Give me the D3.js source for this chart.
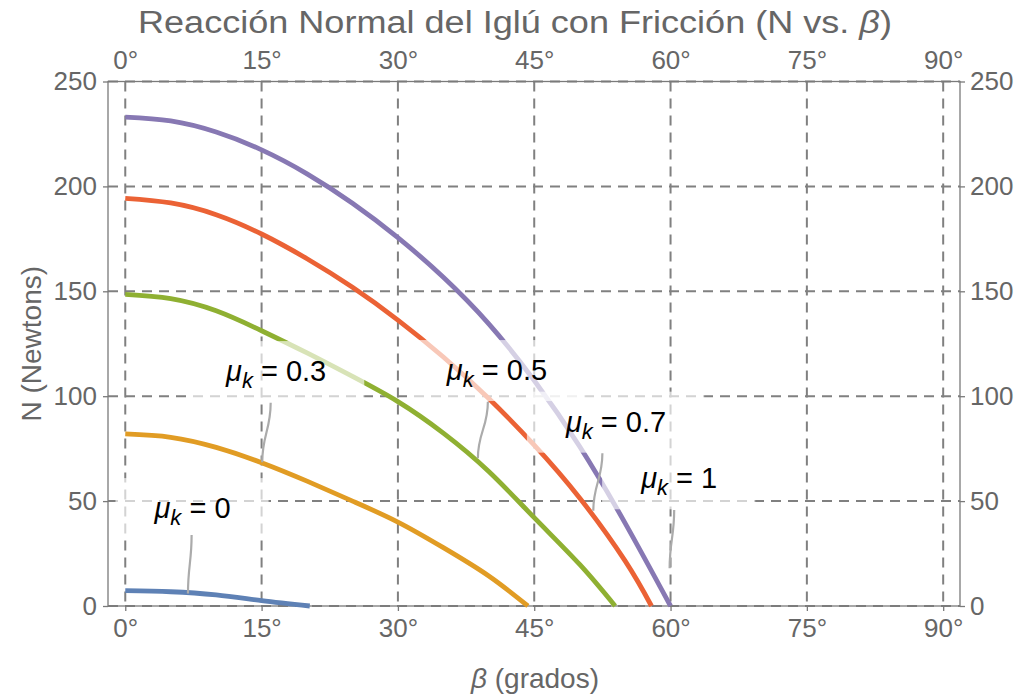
<!DOCTYPE html>
<html>
<head>
<meta charset="utf-8">
<script src="https://cdn.jsdelivr.net/npm/d3@7/dist/d3.min.js"></script>
<style>
  html, body { margin: 0; padding: 0; background: #fff; }
  svg { display: block; }
  text { font-family: "Liberation Sans", Arial, Helvetica, sans-serif; }
</style>
</head>
<body>
<svg id="chart" width="1021" height="698"></svg>
<script>
// Normal reaction N (Newtons) against the angle beta (degrees), one curve per friction coefficient.
const muValues = [0, 0.3, 0.5, 0.7, 1];

const betaMu0  = [0, 5, 10, 15, 20.3];
const normMu0  = [7.3, 6.8, 5.3, 2.6, 0];

const betaMu03 = [0, 5, 10, 15, 20, 25, 30, 35, 40, 44.3];
const normMu03 = [82, 80.4, 75.6, 68.3, 59.5, 50.0, 40.0, 27.8, 14.3, 0];

const betaMu05 = [0, 5, 10, 15, 20, 25, 30, 35, 40, 45, 50, 53.9];
const normMu05 = [148.5, 146.5, 140.7, 131.2, 120.6, 109.4, 97.4, 82.4, 64.1, 42.1, 19.8, 0];

const betaMu07 = [0, 5, 10, 15, 20, 25, 30, 35, 40, 45, 50, 55, 57.9];
const normMu07 = [194.3, 192.1, 186.5, 177.3, 165.5, 151.9, 136.3, 118.7, 98.9, 76.7, 51.5, 21.5, 0];

const betaMu1  = [0, 5, 10, 15, 20, 25, 30, 35, 40, 45, 50, 55, 60];
const normMu1  = [233, 231.2, 225.9, 217.4, 206, 192, 175.6, 156.7, 134.5, 107.5, 76, 39.5, 0];

const xTicks = [0, 15, 30, 45, 60, 75, 90];
const yTicks = [0, 50, 100, 150, 200, 250];

const colors = ["#5E81B5", "#E19C24", "#8FB032", "#EB6235", "#8778B3"];

const seriesBeta = [betaMu0, betaMu03, betaMu05, betaMu07, betaMu1];
const seriesNorm = [normMu0, normMu03, normMu05, normMu07, normMu1];

// Callout placement in data units: label centre/baseline and leader ends.
const calloutLabel  = [[7.4, 41.9], [16.6, 107.2], [40.9, 107.7], [54.0, 83.1], [60.95, 56.1]];
const calloutLeader = [
  [[7.3, 33.8],  [6.9, 6.0]],
  [[16.0, 96.9], [15.07, 68.5]],
  [[39.9, 97.4], [38.8, 70.4]],
  [[52.5, 72.8], [51.5, 45.4]],
  [[60.4, 45.8], [59.9, 18.0]]
];

const svg = d3.select("#chart");

const frame = { left: 108, right: 960, top: 81.5, bottom: 606 };
const x = d3.scaleLinear().domain([-1.9, 91.85]).range([frame.left, frame.right]);
const y = d3.scaleLinear().domain([0, 250]).range([frame.bottom, frame.top]);

const axisGrey = "#7a7a7a";
const labelGrey = "#666666";

// dashed grid
const grid = svg.append("g");
grid.selectAll("line.v").data(xTicks).join("line")
  .attr("x1", d => x(d)).attr("x2", d => x(d))
  .attr("y1", frame.top).attr("y2", frame.bottom)
  .attr("stroke", "#808080").attr("stroke-width", 2).attr("stroke-dasharray", "10,7");
grid.selectAll("line.h").data(yTicks).join("line")
  .attr("x1", frame.left).attr("x2", frame.right)
  .attr("y1", d => y(d)).attr("y2", d => y(d))
  .attr("stroke", "#808080").attr("stroke-width", 2).attr("stroke-dasharray", "10,7");

// frame
svg.append("rect")
  .attr("x", frame.left).attr("y", frame.top)
  .attr("width", frame.right - frame.left).attr("height", frame.bottom - frame.top)
  .attr("fill", "none").attr("stroke", axisGrey).attr("stroke-width", 1.3);

// axes on all four sides
const fmtDeg = d => d + "°";
const styleAxis = g => {
  g.select(".domain").remove();
  g.selectAll(".tick line").attr("stroke", axisGrey).attr("stroke-width", 1.3);
  g.selectAll(".tick text").attr("fill", labelGrey)
    .style("font-family", "'Liberation Sans', Arial, sans-serif").style("font-size", "26px");
};
svg.append("g").attr("transform", `translate(0,${frame.bottom})`)
  .call(d3.axisBottom(x).tickValues(xTicks).tickFormat(fmtDeg).tickSize(5).tickPadding(8))
  .call(styleAxis);
svg.append("g").attr("transform", `translate(0,${frame.top})`)
  .call(d3.axisTop(x).tickValues(xTicks).tickFormat(fmtDeg).tickSize(0).tickPadding(13))
  .call(styleAxis);
svg.append("g").attr("transform", `translate(${frame.left},0)`)
  .call(d3.axisLeft(y).tickValues(yTicks).tickSize(5).tickPadding(6))
  .call(styleAxis);
svg.append("g").attr("transform", `translate(${frame.right},0)`)
  .call(d3.axisRight(y).tickValues(yTicks).tickSize(5).tickPadding(5))
  .call(styleAxis);

// curves
const line = d3.line().x(d => x(d[0])).y(d => y(d[1])).curve(d3.curveNatural);
const curves = svg.append("g");
muValues.forEach((mu, i) => {
  const pts = seriesBeta[i].map((b, j) => [b, seriesNorm[i][j]]);
  curves.append("path").datum(pts)
    .attr("d", line)
    .attr("fill", "none")
    .attr("stroke", colors[i])
    .attr("stroke-width", 4.8)
    .attr("stroke-linecap", "butt");
});

// callouts: translucent backing, leader and label
const callouts = svg.append("g");
const backs = callouts.append("g");
const leaders = callouts.append("g");
const texts = callouts.append("g");
muValues.forEach((mu, i) => {
  const [lb, ln] = calloutLabel[i];
  const t = texts.append("text")
    .attr("x", x(lb)).attr("y", y(ln))
    .attr("text-anchor", "middle")
    .attr("fill", "#000")
    .style("font-size", "29px");
  t.append("tspan").text("μ").style("font-style", "italic");
  t.append("tspan").text("k").style("font-style", "italic").style("font-size", "22px").attr("dy", 7);
  t.append("tspan").text(" = " + mu).attr("dy", -7);
  const bb = t.node().getBBox();
  backs.append("rect")
    .attr("x", bb.x - 38).attr("y", y(ln) - 40)
    .attr("width", bb.width + 76).attr("height", 61)
    .attr("fill", "#fff").attr("fill-opacity", 0.65);

  const [[b0, n0], [b1, n1]] = calloutLeader[i];
  const x0 = x(b0), y0 = y(n0), x1 = x(b1), y1 = y(n1);
  const dy = y1 - y0;
  leaders.append("path")
    .attr("d", `M${x0},${y0} C${x0},${y0 + dy * 0.45} ${x1},${y1 - dy * 0.45} ${x1},${y1}`)
    .attr("fill", "none").attr("stroke", "#ababab").attr("stroke-width", 2.2);
});

// titles
const title = svg.append("text")
  .attr("x", 515).attr("y", 33).attr("text-anchor", "middle")
  .attr("fill", labelGrey).style("font-size", "31px")
  .attr("textLength", 754).attr("lengthAdjust", "spacingAndGlyphs");
title.append("tspan").text("Reacción Normal del Iglú con Fricción (N vs. ");
title.append("tspan").text("β").style("font-style", "italic");
title.append("tspan").text(")");

const xTitle = svg.append("text")
  .attr("x", 535).attr("y", 688).attr("text-anchor", "middle")
  .attr("fill", labelGrey).style("font-size", "28px");
xTitle.append("tspan").text("β").style("font-style", "italic");
xTitle.append("tspan").text(" (grados)");

svg.append("text")
  .attr("transform", `translate(41,${(frame.top + frame.bottom) / 2}) rotate(-90)`)
  .attr("text-anchor", "middle")
  .attr("fill", labelGrey).style("font-size", "28px")
  .text("N (Newtons)");
</script>
</body>
</html>
